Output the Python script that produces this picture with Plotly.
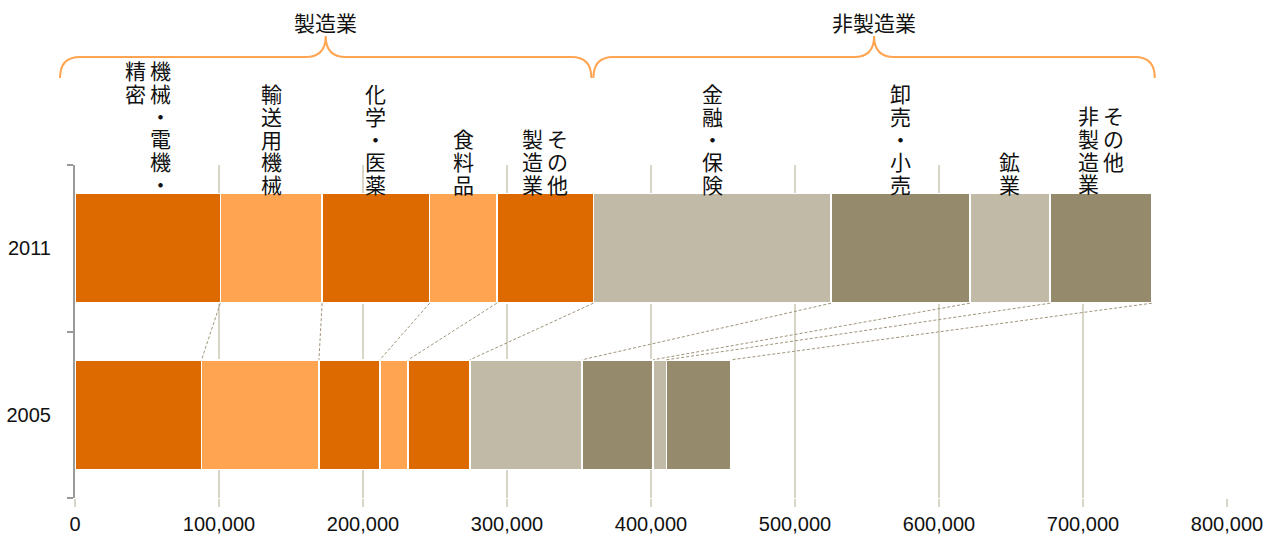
import numpy as np
import plotly.graph_objects as go

# ---------------- data ----------------
years = ["2011", "2005"]
categories = ["機械・電機・精密", "輸送用機械", "化学・医薬", "食料品", "その他製造業",
              "金融・保険", "卸売・小売", "鉱業", "その他非製造業"]
label_columns = [["機械・電機・", "精密"], ["輸送用機械"], ["化学・医薬"], ["食料品"],
                 ["その他", "製造業"], ["金融・保険"], ["卸売・小売"], ["鉱業"],
                 ["その他", "非製造業"]]
group_names = ["製造業", "非製造業"]
group_of_category = [0, 0, 0, 0, 0, 1, 1, 1, 1]
values_2011 = [100900, 70700, 74700, 46600, 67100, 165000, 96400, 55800, 70600]
values_2005 = [87900, 81500, 42300, 19700, 42800, 77800, 49400, 9300, 44800]
x_tickvals = [0, 100000, 200000, 300000, 400000, 500000, 600000, 700000, 800000]

# ---------------- styling ----------------
colors = ["#dd6a00", "#ffa552", "#dd6a00", "#ffa552", "#dd6a00",
          "#c1baa7", "#968a6c", "#c1baa7", "#968a6c"]
brace_color = "#ffa552"
grid_color = "#d9d4c8"
axis_color = "#9a9a9a"
connector_color = "#a0957a"
text_color = "#111111"
LATIN = "Liberation Sans, Arial, sans-serif"
CJK = "Noto Sans CJK JP, sans-serif"

W, H = 1272, 537
M_L, M_R, M_T, M_B = 75, 45, 165, 39
PW, PH = W - M_L - M_R, H - M_T - M_B
XMAX = 800000
BAR_W = 0.66

y_pos = [len(years) - 1 - i for i in range(len(years))]  # 2011 -> 1, 2005 -> 0
series = [values_2011, values_2005]

fig = go.Figure()

for i, cat in enumerate(categories):
    fig.add_trace(go.Bar(
        x=[s[i] for s in series], y=y_pos, orientation="h", name=cat,
        width=BAR_W, marker=dict(color=colors[i], line=dict(color="white", width=1.5)),
        showlegend=False, hoverinfo="x+name"))

# dashed connectors between segment boundaries
cum = [np.cumsum(s) for s in series]
for j in range(len(categories)):
    fig.add_trace(go.Scatter(
        x=[cum[0][j], cum[1][j]],
        y=[y_pos[0] - BAR_W / 2, y_pos[1] + BAR_W / 2],
        mode="lines", line=dict(color=connector_color, width=1, dash="3px,2px"),
        showlegend=False, hoverinfo="skip"))

# vertical category labels (columns right-to-left, top-aligned, block sits on the 2011 bar)
BASE_FS = 17.5
GLYPH_FS = 21
PITCH = BASE_FS * 1.3
COL_GAP = 25
annotations = []
for i, cols in enumerate(label_columns):
    center = cum[0][i] - values_2011[i] / 2
    L = max(len(c) for c in cols)
    n = len(cols)
    for k, col in enumerate(cols):
        txt = "<br>".join(f"<span style='font-size:{GLYPH_FS}px'>{ch}</span>" for ch in col)
        annotations.append(dict(
            x=center, y=y_pos[0] + BAR_W / 2, xref="x", yref="y",
            text=txt, showarrow=False, xanchor="center", yanchor="top",
            xshift=((n - 1) / 2 - k) * COL_GAP, yshift=4 + L * PITCH,
            font=dict(family=CJK, size=BASE_FS, color=text_color), align="center"))


def px_to_paper_y(py):
    return (H - M_B - py) / PH


def to_dom(v, px=0):
    return v / XMAX + px / PW


# group braces
shapes = []
brace_pads = [(-15, -2), (0, 3)]
gstart = 0
for g, gname in enumerate(group_names):
    idx = [i for i, gg in enumerate(group_of_category) if gg == g]
    gend = cum[0][idx[-1]]
    x0 = to_dom(gstart, brace_pads[g][0])
    x1 = to_dom(gend, brace_pads[g][1])
    xc = (x0 + x1) / 2
    r = 20 / PW
    yh, ye, yt = px_to_paper_y(57), px_to_paper_y(78), px_to_paper_y(36)
    path = (f"M {x0},{ye} Q {x0},{yh} {x0 + r},{yh} L {xc - r},{yh} "
            f"Q {xc},{yh} {xc},{yt} Q {xc},{yh} {xc + r},{yh} "
            f"L {x1 - r},{yh} Q {x1},{yh} {x1},{ye}")
    shapes.append(dict(type="path", path=path, xref="x domain", yref="paper",
                       line=dict(color=brace_color, width=2)))
    annotations.append(dict(x=xc, y=px_to_paper_y(22), xref="x domain", yref="paper",
                            text=gname, showarrow=False, xanchor="center", yanchor="middle",
                            font=dict(family=CJK, size=21, color=text_color)))
    gstart = gend

fig.update_layout(
    width=W, height=H,
    margin=dict(l=M_L, r=M_R, t=M_T, b=M_B, pad=0, autoexpand=False),
    barmode="stack", bargap=1 - BAR_W,
    plot_bgcolor="white", paper_bgcolor="white",
    shapes=shapes, annotations=annotations,
    xaxis=dict(range=[0, XMAX], tickvals=x_tickvals, tickformat=",", automargin=False,
               showgrid=True, gridcolor=grid_color, gridwidth=1.5,
               ticks="outside", ticklen=8, tickcolor=grid_color, tickwidth=1.5,
               showline=False, zeroline=False,
               tickfont=dict(family=LATIN, size=20, color=text_color)),
    yaxis=dict(range=[-0.5, 1.5], tickvals=y_pos, ticktext=years, automargin=False,
               showgrid=False, zeroline=False,
               showline=True, linecolor=axis_color, linewidth=2,
               ticks="outside", ticklen=18, tickcolor="rgba(0,0,0,0)",
               minor=dict(tickmode="array", tickvals=[-0.5, 0.5, 1.5], ticks="outside",
                          ticklen=6, tickcolor=axis_color, tickwidth=2, showgrid=False),
               tickfont=dict(family=LATIN, size=20, color=text_color)),
)

fig.write_html("out.html")
